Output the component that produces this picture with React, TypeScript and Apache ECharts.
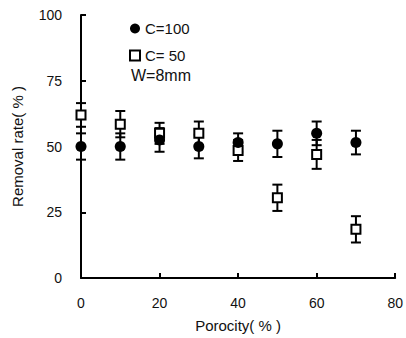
import React, { useEffect, useRef } from "react";
import * as echarts from "echarts";

const porosity = [0, 10, 20, 30, 40, 50, 60, 70];
const c100 = [50, 50, 52.5, 50, 51.5, 51, 55, 51.5];
const c100Err = [5, 5, 4.5, 4.5, 3.5, 5, 4.5, 4.5];
const c50 = [62, 58.5, 55, 55, 48.5, 30.5, 47, 18.5];
const c50Err = [4.5, 5, 4, 4.5, 4, 5, 5.5, 5];
const xTicks = [0, 20, 40, 60, 80];
const yTicks = [0, 25, 50, 75, 100];
const seriesNames = ["C=100", "C= 50"];
const noteText = "W=8mm";

const FONT = "'Liberation Sans', Arial, sans-serif";

function errData(v: number[], e: number[]) {
  return porosity.map((x, i) => [x, v[i], v[i] - e[i], v[i] + e[i]]);
}

function errRender(params: any, api: any) {
  const x = api.value(0);
  const lo = api.coord([x, api.value(2)]);
  const hi = api.coord([x, api.value(3)]);
  const w = 5;
  const style = { stroke: "#000", lineWidth: 2 };
  return {
    type: "group",
    children: [
      { type: "line", shape: { x1: lo[0], y1: lo[1], x2: hi[0], y2: hi[1] }, style },
      { type: "line", shape: { x1: lo[0] - w, y1: lo[1], x2: lo[0] + w, y2: lo[1] }, style },
      { type: "line", shape: { x1: hi[0] - w, y1: hi[1], x2: hi[0] + w, y2: hi[1] }, style },
    ],
  };
}

export default function App() {
  const ref = useRef<HTMLDivElement>(null);
  useEffect(() => {
    const chart = echarts.init(ref.current!, null, { renderer: "svg" });
    chart.setOption({
      animation: false,
      backgroundColor: "#fff",
      textStyle: { fontFamily: FONT },
      grid: { left: 81, top: 15, right: 9, bottom: 57 },
      legend: {
        orient: "vertical",
        left: 124,
        top: 16,
        itemGap: 12,
        itemWidth: 10,
        itemHeight: 10,
        data: [
          { name: seriesNames[0], icon: "circle" },
          { name: seriesNames[1], icon: "rect" },
        ],
        textStyle: { fontSize: 15, color: "#111", fontFamily: FONT, padding: [0, 0, 0, 0] },
      },
      graphic: [
        {
          type: "text",
          left: 131,
          top: 67,
          style: { text: noteText, font: `16px ${FONT}`, fill: "#111" },
        },
      ],
      xAxis: {
        type: "value",
        min: xTicks[0],
        max: xTicks[xTicks.length - 1],
        interval: 20,
        name: "Porocity( % )",
        nameLocation: "middle",
        nameGap: 40,
        nameTextStyle: { fontSize: 15, color: "#111", fontFamily: FONT },
        axisLine: { lineStyle: { color: "#000", width: 2 } },
        axisTick: { inside: true, length: 5, lineStyle: { color: "#000", width: 2 } },
        axisLabel: { fontSize: 14, color: "#111", margin: 18, fontFamily: FONT },
        splitLine: { show: false },
      },
      yAxis: {
        type: "value",
        min: yTicks[0],
        max: yTicks[yTicks.length - 1],
        interval: 25,
        name: "Removal rate( % )",
        nameLocation: "middle",
        nameGap: 56,
        nameTextStyle: { fontSize: 15, color: "#111", fontFamily: FONT },
        axisLine: { show: true, lineStyle: { color: "#000", width: 2 } },
        axisTick: { show: true, inside: true, length: 5, lineStyle: { color: "#000", width: 2 } },
        axisLabel: { fontSize: 14, color: "#111", margin: 19, fontFamily: FONT },
        splitLine: { show: false },
      },
      series: [
        {
          type: "custom",
          name: "err100",
          renderItem: errRender,
          data: errData(c100, c100Err),
          encode: { x: 0, y: [1, 2, 3] },
          z: 1,
          silent: true,
        },
        {
          type: "custom",
          name: "err50",
          renderItem: errRender,
          data: errData(c50, c50Err),
          encode: { x: 0, y: [1, 2, 3] },
          z: 1,
          silent: true,
        },
        {
          type: "scatter",
          name: seriesNames[1],
          symbol: "rect",
          symbolSize: 9,
          data: porosity.map((x, i) => [x, c50[i]]),
          itemStyle: { color: "#fff", borderColor: "#000", borderWidth: 2, opacity: 1 },
          z: 3,
        },
        {
          type: "scatter",
          name: seriesNames[0],
          symbol: "circle",
          symbolSize: 11,
          data: porosity.map((x, i) => [x, c100[i]]),
          itemStyle: { color: "#000", opacity: 1 },
          z: 4,
        },
      ],
    });
    return () => chart.dispose();
  }, []);
  return <div ref={ref} style={{ width: 406, height: 338, position: "absolute", left: 0, top: 0 }} />;
}
